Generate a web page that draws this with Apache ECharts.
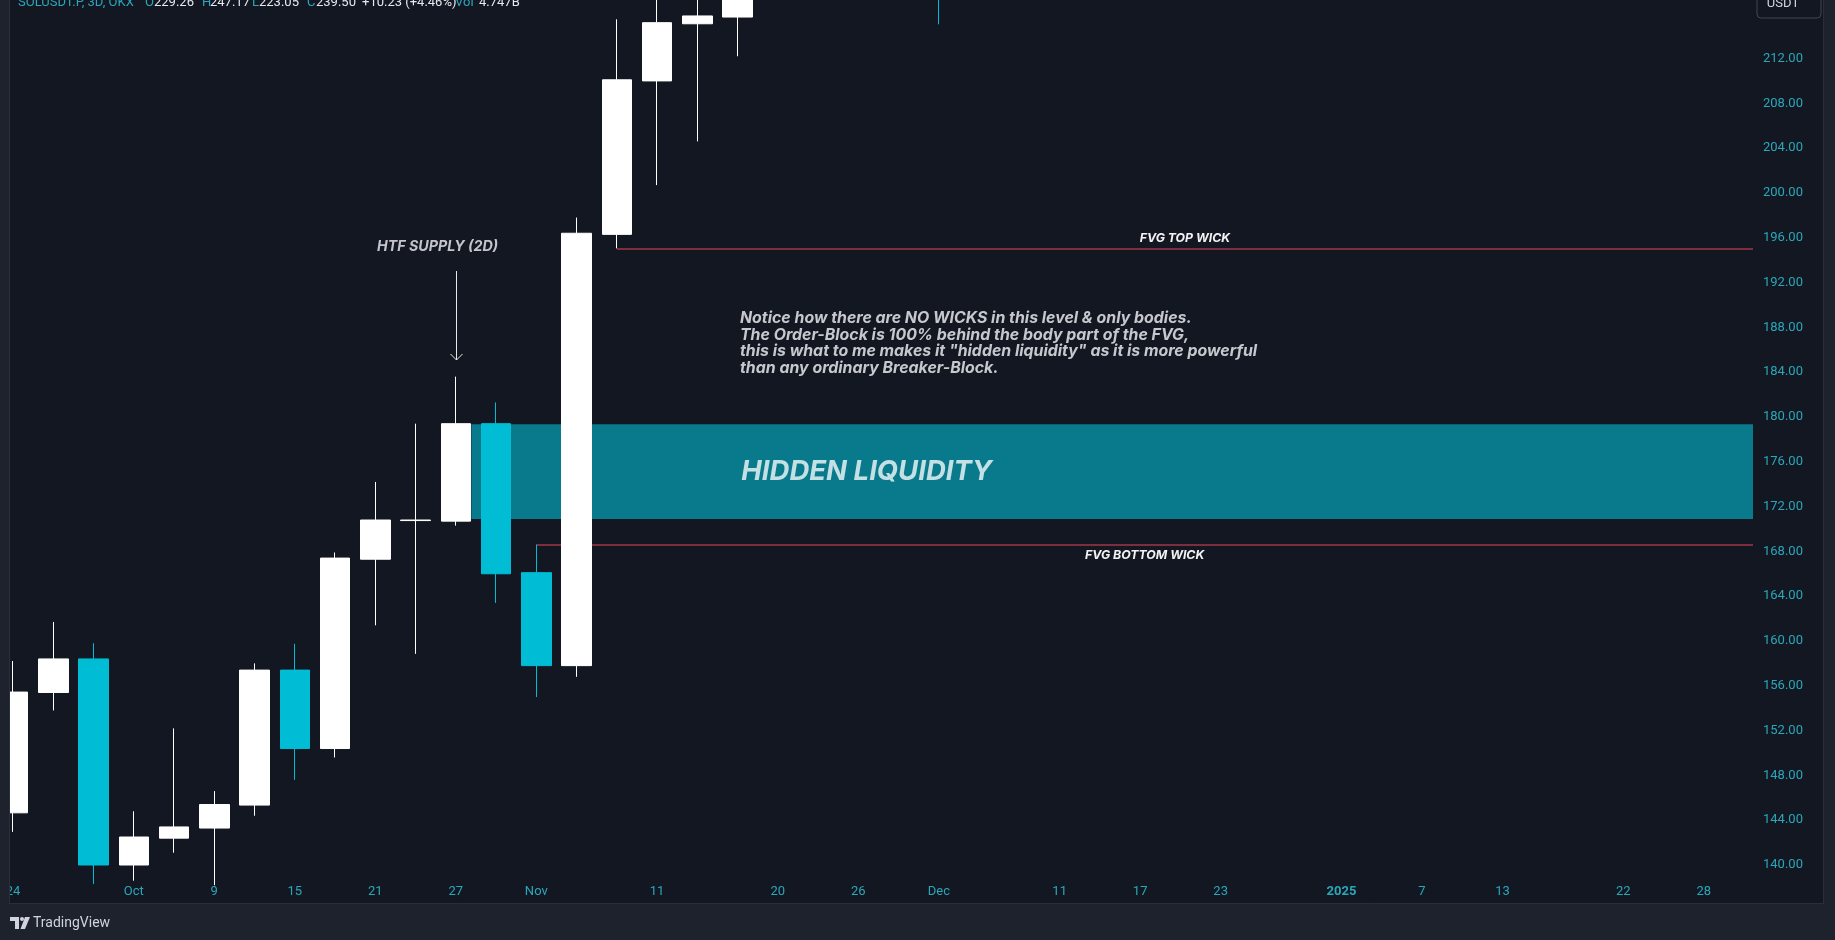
<!DOCTYPE html>
<html><head><meta charset="utf-8">
<style>html,body{margin:0;padding:0;background:#1e222d;overflow:hidden}#c{width:1835px;height:940px}</style>
<script src="https://cdn.jsdelivr.net/npm/echarts@6/dist/echarts.min.js"></script>
</head><body><div id="c"></div>
<script>
// ---- data (3D bars, SOLUSDT.P OKX) ----
const dates = ['2024-09-24','2024-09-27','2024-09-30','2024-10-03','2024-10-06','2024-10-09','2024-10-12','2024-10-15','2024-10-18','2024-10-21','2024-10-24','2024-10-27','2024-10-30','2024-11-02','2024-11-05','2024-11-08','2024-11-11','2024-11-14','2024-11-17','2024-11-20','2024-11-23','2024-11-26','2024-11-29','2024-12-02','2024-12-05'];
const opens  = [144.66,155.4,158.4,140.0,142.4,143.3,145.35,157.4,150.4,167.3,170.75,170.7,179.4,166.1,157.8,196.3,210.0,215.1,215.7,237.5,256.0,236.0,241.0,236.5,229.26];
const closes = [155.44,158.4,140.0,142.5,143.4,145.4,157.4,150.4,167.4,170.8,170.8,179.4,166.0,157.8,196.4,210.1,215.2,215.8,237.5,256.0,236.0,241.0,236.5,229.27,239.50];
const lows   = [142.96,153.8,138.3,138.6,141.1,138.2,144.4,147.6,149.6,161.4,158.85,170.3,163.4,155.0,156.8,195.05,200.7,204.6,212.2,231.0,233.0,221.5,232.5,215.05,223.05];
const highs  = [158.21,161.7,159.8,144.8,152.2,146.6,158.0,159.75,167.9,174.2,179.4,183.6,181.3,168.6,197.8,215.5,222.4,224.6,240.5,257.5,264.6,245.0,248.0,240.0,247.17];

const priceTicks = [140,144,148,152,156,160,164,168,172,176,180,184,188,192,196,200,204,208,212];
const tickBars  = [0,3,5,7,9,11,13,16,19,21,23,26,28,30,33,35,37,40,42];
const tickTexts = ['24','Oct','9','15','21','27','Nov','11','20','26','Dec','11','17','23','2025','7','13','22','28'];

const viewBars  = [-0.0745, 43.224];   // visible bar range
const viewPrice = [138.93, 217.223];   // visible price range
const hiddenZone = {fromBar: 11.385, low: 170.9, high: 179.35};
const fvgTop    = {fromBar: 15, price: 195.05};
const fvgBottom = {fromBar: 13, price: 168.6};

// ---- chart ----
const LABEL = '#2aa7b9';
const BG = '#131722', FRAME = '#1e222d', EDGE = '#2a2e39';
const chart = echarts.init(document.getElementById('c'), null, {renderer:'canvas'});
const annFont = 'Inter, "Noto Sans", sans-serif';
const HDR = '13px Roboto';
const hdr = (x, text, fill) => ({type: 'text', z: 110, silent: true, x: x, y: 3, style: {text: text, fill: fill, font: HDR, verticalAlign: 'middle'}});
const LOGO = '#d1d4dc';

const option = {
  animation: false,
  backgroundColor: BG,
  grid: {left: 10, right: 82, top: 0, bottom: 63, containLabel: false, outerBoundsMode: 'none'},
  xAxis: {
    type: 'value', min: viewBars[0], max: viewBars[1],
    axisLine: {show: false}, axisTick: {show: false}, splitLine: {show: false},
    axisLabel: {
      customValues: tickBars, margin: 8, color: LABEL, fontSize: 13, fontFamily: 'Roboto',
      formatter: v => { const k = tickBars.indexOf(Math.round(v)); if (k < 0) return ''; const t = tickTexts[k]; return t === '2025' ? '{b|' + t + '}' : t; },
      rich: {b: {fontWeight: 'bold', color: LABEL, fontSize: 13, fontFamily: 'Roboto'}}
    }
  },
  yAxis: {
    type: 'value', position: 'right', min: viewPrice[0], max: viewPrice[1],
    axisLine: {show: false}, axisTick: {show: false}, splitLine: {show: false},
    axisLabel: {customValues: priceTicks, margin: 10, color: LABEL, fontSize: 13, fontFamily: 'Roboto', formatter: v => v.toFixed(2)}
  },
  series: [{
    type: 'candlestick',
    data: dates.map((d, i) => [i, opens[i], closes[i], lows[i], highs[i]]),
    barWidth: 30,
    itemStyle: {color: '#ffffff', color0: '#00bcd4', borderColor: '#ffffff', borderColor0: '#00bcd4', borderWidth: 1},
    emphasis: {disabled: true},
    markArea: {
      silent: true, z: 1,
      itemStyle: {color: '#087a8b'},
      label: {show: true, position: [270, '50%'], align: 'left', verticalAlign: 'middle',
        color: 'rgba(228,242,245,0.85)', fontSize: 27.5, fontWeight: 'bold', fontStyle: 'italic', fontFamily: annFont},
      data: [[{name: 'HIDDEN LIQUIDITY', xAxis: hiddenZone.fromBar, yAxis: hiddenZone.high}, {xAxis: viewBars[1], yAxis: hiddenZone.low}]]
    },
    markLine: {
      silent: true, z: 1, symbol: ['none', 'none'],
      lineStyle: {color: '#7d2e3e', width: 2, type: 'solid'},
      emphasis: {disabled: true},
      label: {color: '#f2f2f2', fontSize: 12.3, fontWeight: 'bold', fontStyle: 'italic', fontFamily: annFont},
      data: [
        [{coord: [fvgTop.fromBar, fvgTop.price], label: {show: true, formatter: 'FVG TOP WICK', position: 'insideMiddleTop', distance: 4}}, {coord: [viewBars[1], fvgTop.price]}],
        [{coord: [fvgBottom.fromBar, fvgBottom.price], label: {show: true, formatter: 'FVG BOTTOM WICK', position: 'insideMiddleBottom', distance: 5}}, {coord: [viewBars[1], fvgBottom.price]}]
      ]
    }
  }],
  graphic: [
    // frame
    {type: 'rect', z: 100, silent: true, shape: {x: 0, y: 0, width: 10, height: 940}, style: {fill: FRAME}},
    {type: 'rect', z: 100, silent: true, shape: {x: 1824, y: 0, width: 11, height: 940}, style: {fill: FRAME}},
    {type: 'rect', z: 100, silent: true, shape: {x: 0, y: 904, width: 1835, height: 36}, style: {fill: FRAME}},
    {type: 'line', z: 101, silent: true, shape: {x1: 1823.5, y1: 0, x2: 1823.5, y2: 904}, style: {stroke: EDGE, lineWidth: 1}},
    {type: 'line', z: 101, silent: true, shape: {x1: 10, y1: 903.5, x2: 1824, y2: 903.5}, style: {stroke: EDGE, lineWidth: 1}},
    {type: 'line', z: 101, silent: true, shape: {x1: 9.5, y1: 0, x2: 9.5, y2: 904}, style: {stroke: EDGE, lineWidth: 1}},
    // header legend
    hdr(18, 'SOLUSDT.P, 3D, OKX', LABEL),
    hdr(145, 'O', LABEL), hdr(154, '229.26', '#e6e8ee'),
    hdr(202, 'H', LABEL), hdr(210, '247.17', '#e6e8ee'),
    hdr(252, 'L', LABEL), hdr(259, '223.05', '#e6e8ee'),
    hdr(307, 'C', LABEL), hdr(316, '239.50', '#e6e8ee'),
    hdr(362, '+10.23 (+4.46%)', '#e6e8ee'),
    hdr(455, 'Vol', LABEL), hdr(479, '4.747B', '#e6e8ee'),
    // currency box
    {type: 'rect', z: 110, silent: true, shape: {x: 1757, y: -8, width: 64, height: 26, r: 4}, style: {fill: BG, stroke: '#434651', lineWidth: 1}},
    {type: 'text', z: 111, silent: true, x: 1783, y: 4, style: {text: 'USDT', fill: '#d1d4dc', font: '13px Roboto', align: 'center', verticalAlign: 'middle'}},
    // annotations
    {type: 'text', z: 50, silent: true, x: 377, y: 247, style: {text: 'HTF SUPPLY (2D)', fill: '#c3c5cb', font: 'italic bold 14.3px ' + annFont, verticalAlign: 'middle'}},
    {type: 'line', z: 50, silent: true, shape: {x1: 456.5, y1: 271, x2: 456.5, y2: 360}, style: {stroke: '#e8e8e8', lineWidth: 1}},
    {type: 'polyline', z: 50, silent: true, shape: {points: [[450.5, 354], [456.5, 360], [462.5, 354]]}, style: {stroke: '#e8e8e8', lineWidth: 1, fill: null}},
    {type: 'text', z: 50, silent: true, x: 740, y: 310, style: {
      text: 'Notice how there are NO WICKS in this level & only bodies.\nThe Order-Block is 100% behind the body part of the FVG,\nthis is what to me makes it "hidden liquidity" as it is more powerful\nthan any ordinary Breaker-Block.',
      fill: '#c6c8ce', font: 'italic bold 15.9px ' + annFont, lineHeight: 16.5, verticalAlign: 'top'}},
    // TradingView logo
    {type: 'polygon', z: 110, silent: true, shape: {points: [[10, 917], [19, 917], [19, 929], [15, 929], [15, 921], [10, 921]]}, style: {fill: LOGO}},
    {type: 'circle', z: 110, silent: true, shape: {cx: 22, cy: 919, r: 2}, style: {fill: LOGO}},
    {type: 'polygon', z: 110, silent: true, shape: {points: [[25, 917], [30, 917], [25, 929], [20.5, 929]]}, style: {fill: LOGO}},
    {type: 'text', z: 110, silent: true, x: 33, y: 923, style: {text: 'TradingView', fill: LOGO, font: '14px Roboto', verticalAlign: 'middle'}}
  ]
};
chart.setOption(option);
</script>
</body></html>
